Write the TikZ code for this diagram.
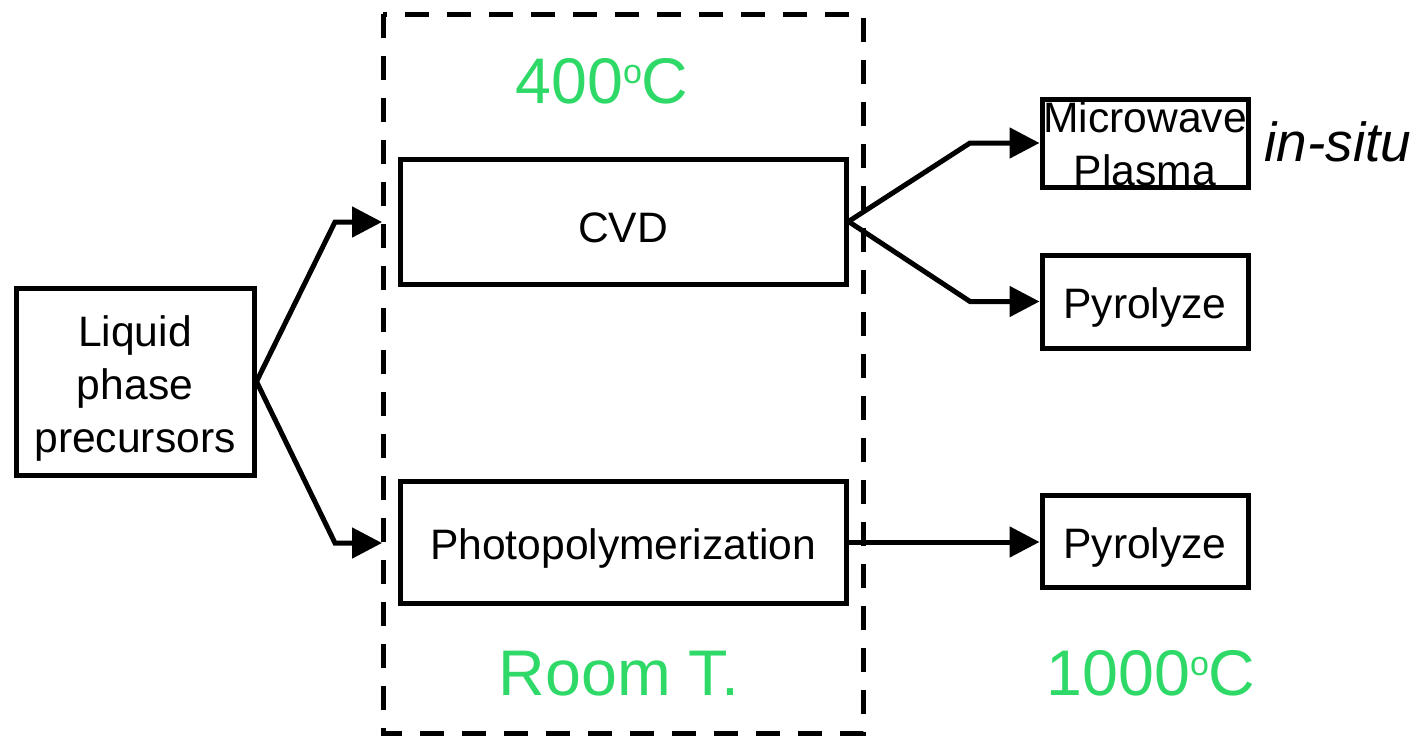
\documentclass[tikz,border=0pt]{standalone}
\usepackage{fontspec}
\setmainfont{Liberation Sans}
\usetikzlibrary{arrows.meta}
\definecolor{tgreen}{RGB}{46,217,104}
\newcommand{\degsup}{\raisebox{20pt}{\fontsize{34}{34}\selectfont o}}
\tikzset{
  box/.style={draw=black, line width=5pt, inner sep=0pt},
  lbl/.style={inner sep=0pt, align=center, font=\fontsize{42.6}{53}\selectfont},
  conn/.style={draw=black, line width=5pt},
  arr/.style={conn, -{Triangle[length=30pt,width=30pt]}},
  temp/.style={text=tgreen, anchor=base, inner sep=0pt, font=\fontsize{64.5}{70}\selectfont},
  frame/.style={draw=black, line width=5pt, dash pattern=on 24pt off 18pt}
}
\begin{document}
\begin{tikzpicture}[x=1pt,y=-1pt]
\useasboundingbox (0,0) rectangle (1423,736);
\draw[frame] (383,14) rectangle (863,733);
\node[box, minimum width=238pt, minimum height=187pt] (liq) at (135,381.5) {};
\node[box, minimum width=446pt, minimum height=125pt] (cvd) at (623,221.5) {};
\node[box, minimum width=446pt, minimum height=122pt] (photo) at (623,542) {};
\node[box, minimum width=206pt, minimum height=88pt] (mw) at (1145,143) {};
\node[box, minimum width=206pt, minimum height=93pt] (py1) at (1145,301.5) {};
\node[box, minimum width=206pt, minimum height=92pt] (py2) at (1145,541) {};
\node[lbl] (liqT) at ([yshift=-6.5pt]liq.center) {Liquid\\phase\\precursors};
\node[lbl] (cvdT) at ([yshift=-6pt]cvd.center) {CVD};
\node[lbl] (photoT) at ([yshift=-6pt]photo.center) {Photopolymerization};
\node[lbl] (mwT) at ([yshift=-1pt]mw.center) {Microwave\\Plasma};
\node[lbl] (py1T) at ([yshift=-6pt]py1.center) {Pyrolyze};
\node[lbl] (py2T) at ([yshift=-6pt]py2.center) {Pyrolyze};
\node[anchor=base, inner sep=0pt, font=\fontsize{55}{60}\selectfont\itshape] (insitu) at (1338,161) {in-situ};
\node[temp] (t400) at (602,103) {400\degsup C};
\node[temp] (troom) at (619,695) {Room T.};
\node[temp] (t1000) at (1151,695) {1000\degsup C};
\coordinate (ta) at (382,222);
\coordinate (tb) at (382,543);
\draw[arr] (liq.east) -- (335,222) -- (ta);
\draw[arr] (liq.east) -- (335,543) -- (tb);
\draw[arr] (cvd.east) -- (970,143) -- (mw.west);
\draw[arr] (cvd.east) -- (970,301.5) -- (py1.west);
\draw[arr] (photo.east) -- (photo.east -| py2.west);
\end{tikzpicture}
\end{document}
